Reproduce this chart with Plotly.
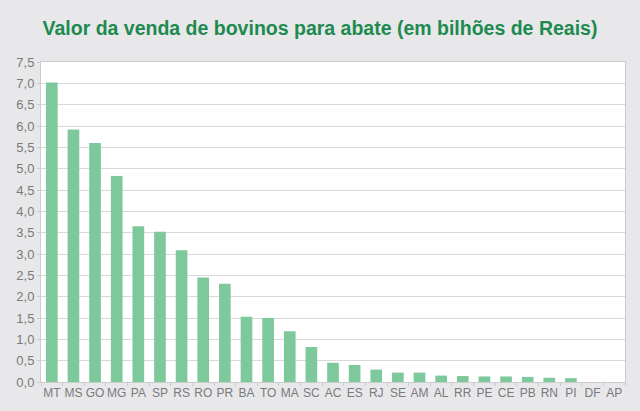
import plotly.graph_objects as go

# estados e valor da venda de bovinos para abate (bilhões de R$)
estados = ['MT', 'MS', 'GO', 'MG', 'PA', 'SP', 'RS', 'RO', 'PR', 'BA', 'TO', 'MA', 'SC',
           'AC', 'ES', 'RJ', 'SE', 'AM', 'AL', 'RR', 'PE', 'CE', 'PB', 'RN', 'PI', 'DF', 'AP']
valores = [7.02, 5.92, 5.60, 4.83, 3.65, 3.52, 3.09, 2.45, 2.30, 1.53, 1.50, 1.19, 0.82,
           0.45, 0.40, 0.29, 0.22, 0.22, 0.15, 0.14, 0.13, 0.13, 0.12, 0.10, 0.09, 0.0, 0.0]

y_ticks = [i * 0.5 for i in range(16)]
y_labels = ['{:.1f}'.format(v).replace('.', ',') for v in y_ticks]

fig = go.Figure()
fig.add_trace(go.Bar(x=estados, y=valores, marker_color='#7ec99b', marker_line_width=0))

fig.update_layout(
    title=dict(text='<b>Valor da venda de bovinos para abate (em bilhões de Reais)</b>',
               x=0.5, xanchor='center', y=0.932, yanchor='middle',
               font=dict(family='Liberation Sans, Arial', size=19.5, color='#1d8a50')),
    width=640, height=411,
    margin=dict(l=41, r=15, t=62, b=29, autoexpand=False),
    paper_bgcolor='#e8e8eb', plot_bgcolor='white',
    bargap=0.46, showlegend=False,
    font=dict(family='Liberation Sans, Arial', size=12, color='#7a7a7a'),
)
fig.update_xaxes(showline=True, linecolor='#cccccc', mirror=True, tickangle=0,
                 ticks='outside', ticklen=3, tickcolor='#cccccc', tickson='boundaries',
                 tickfont=dict(size=12, color='#7a7a7a'), automargin=False)
fig.update_yaxes(range=[0, 7.5], tickvals=y_ticks, ticktext=y_labels,
                 showgrid=True, gridcolor='#d9d9d9', gridwidth=1,
                 showline=True, linecolor='#cccccc', mirror=True,
                 ticks='outside', ticklen=3, tickcolor='#cccccc', automargin=False,
                 tickfont=dict(size=13, color='#7a7a7a'), zeroline=False)

# page has an 8px default body margin; drop it so the figure sits at 0,0
fig.write_html("out.html", config={'displayModeBar': False},
               post_script="document.body.style.margin='0';")
